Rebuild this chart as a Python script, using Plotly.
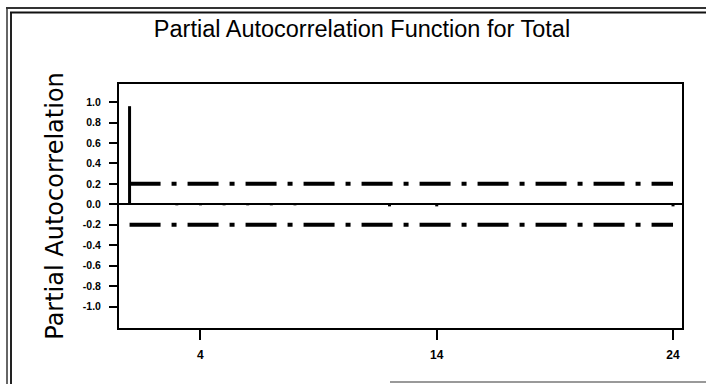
import plotly.graph_objects as go

# Partial autocorrelation estimates for the "Total" series, lags 1..24
lags = list(range(1, 25))
pacf = [0.96, 0.00, -0.01, -0.01, -0.01, -0.01, -0.01, -0.01, 0.00, 0.00, 0.00, -0.02,
        0.01, -0.02, 0.00, 0.00, 0.00, 0.00, 0.00, 0.00, 0.00, 0.00, 0.00, -0.02]
# Approximate 95% significance limits
ci_upper = 0.2
ci_lower = -0.2

y_tickvals = [1.0, 0.8, 0.6, 0.4, 0.2, 0.0, -0.2, -0.4, -0.6, -0.8, -1.0]
y_ticktext = ["1.0", "0.8", "0.6", "0.4", "0.2", "0.0", "-0.2", "-0.4", "-0.6", "-0.8", "-1.0"]
x_tickvals = [4, 14, 24]
x_ticktext = ["4", "14", "24"]

W, H = 706, 384
L, R, T, B = 119, 24, 84, 56
PW, PH = W - L - R, H - T - B

fig = go.Figure()

# Vertical spikes from zero to each PACF value
sx, sy = [], []
for lag, v in zip(lags, pacf):
    sx += [lag, lag, None]
    sy += [0, v, None]
fig.add_trace(go.Scatter(x=sx, y=sy, mode="lines",
                         line=dict(color="black", width=3), hoverinfo="skip"))

# Dash-dot significance limits
for lim in (ci_upper, ci_lower):
    fig.add_trace(go.Scatter(x=[lags[0], lags[-1]], y=[lim, lim], mode="lines",
                             line=dict(color="black", width=4, dash="31px,11px,5px,11px")))


def px_x(p):
    return (p - L) / PW


def px_y(p):
    return (H - B - p) / PH


frame = dict(color="#333333", width=2)
shapes = [
    dict(type="line", xref="paper", yref="paper", x0=px_x(7), x1=px_x(7), y0=px_y(8), y1=px_y(386),
         line=dict(color="#666666", width=2)),
    dict(type="line", xref="paper", yref="paper", x0=px_x(11), x1=px_x(11), y0=px_y(12), y1=px_y(386),
         line=dict(color="#222222", width=2)),
    dict(type="line", xref="paper", yref="paper", x0=px_x(6), x1=px_x(708), y0=px_y(8), y1=px_y(8),
         line=frame),
    dict(type="line", xref="paper", yref="paper", x0=px_x(10), x1=px_x(708), y0=px_y(12.5), y1=px_y(12.5),
         line=dict(color="#111111", width=2)),
    dict(type="line", xref="paper", yref="paper", x0=px_x(390), x1=px_x(708), y0=px_y(382), y1=px_y(382),
         line=dict(color="#999999", width=2)),
]

fig.update_layout(
    width=W, height=H,
    margin=dict(l=L, r=R, t=T, b=B, pad=0),
    paper_bgcolor="white", plot_bgcolor="white",
    showlegend=False,
    shapes=shapes,
    title=dict(text="Partial Autocorrelation Function for Total",
               x=362 / W, xanchor="center", xref="container",
               y=1 - 29 / H, yanchor="middle", yref="container",
               font=dict(family="Liberation Sans, Arial, sans-serif", size=23.5, color="black")),
    xaxis=dict(range=[0.553, 24.38], tickvals=x_tickvals, ticktext=x_ticktext,
               ticks="outside", ticklen=10, tickwidth=1.5, tickcolor="black",
               showline=True, linecolor="black", linewidth=2, mirror=True,
               showgrid=False, zeroline=False, ticklabelstandoff=5,
               tickfont=dict(family="Liberation Sans, Arial, sans-serif", size=12, color="black",
                             weight="bold")),
    yaxis=dict(range=[-1.21, 1.177], tickvals=y_tickvals, ticktext=y_ticktext,
               ticks="outside", ticklen=8, tickwidth=1.5, tickcolor="black",
               showline=True, linecolor="black", linewidth=2, mirror=True,
               showgrid=False, zeroline=True, zerolinecolor="black", zerolinewidth=1.5,
               ticklabelstandoff=6,
               tickfont=dict(family="Liberation Sans, Arial, sans-serif", size=10.5, color="black",
                             weight="bold"),
               title=dict(text="Partial Autocorrelation", standoff=12,
                          font=dict(family="DejaVu Sans, sans-serif", size=24, color="black"))),
)

fig.write_html("out.html")
